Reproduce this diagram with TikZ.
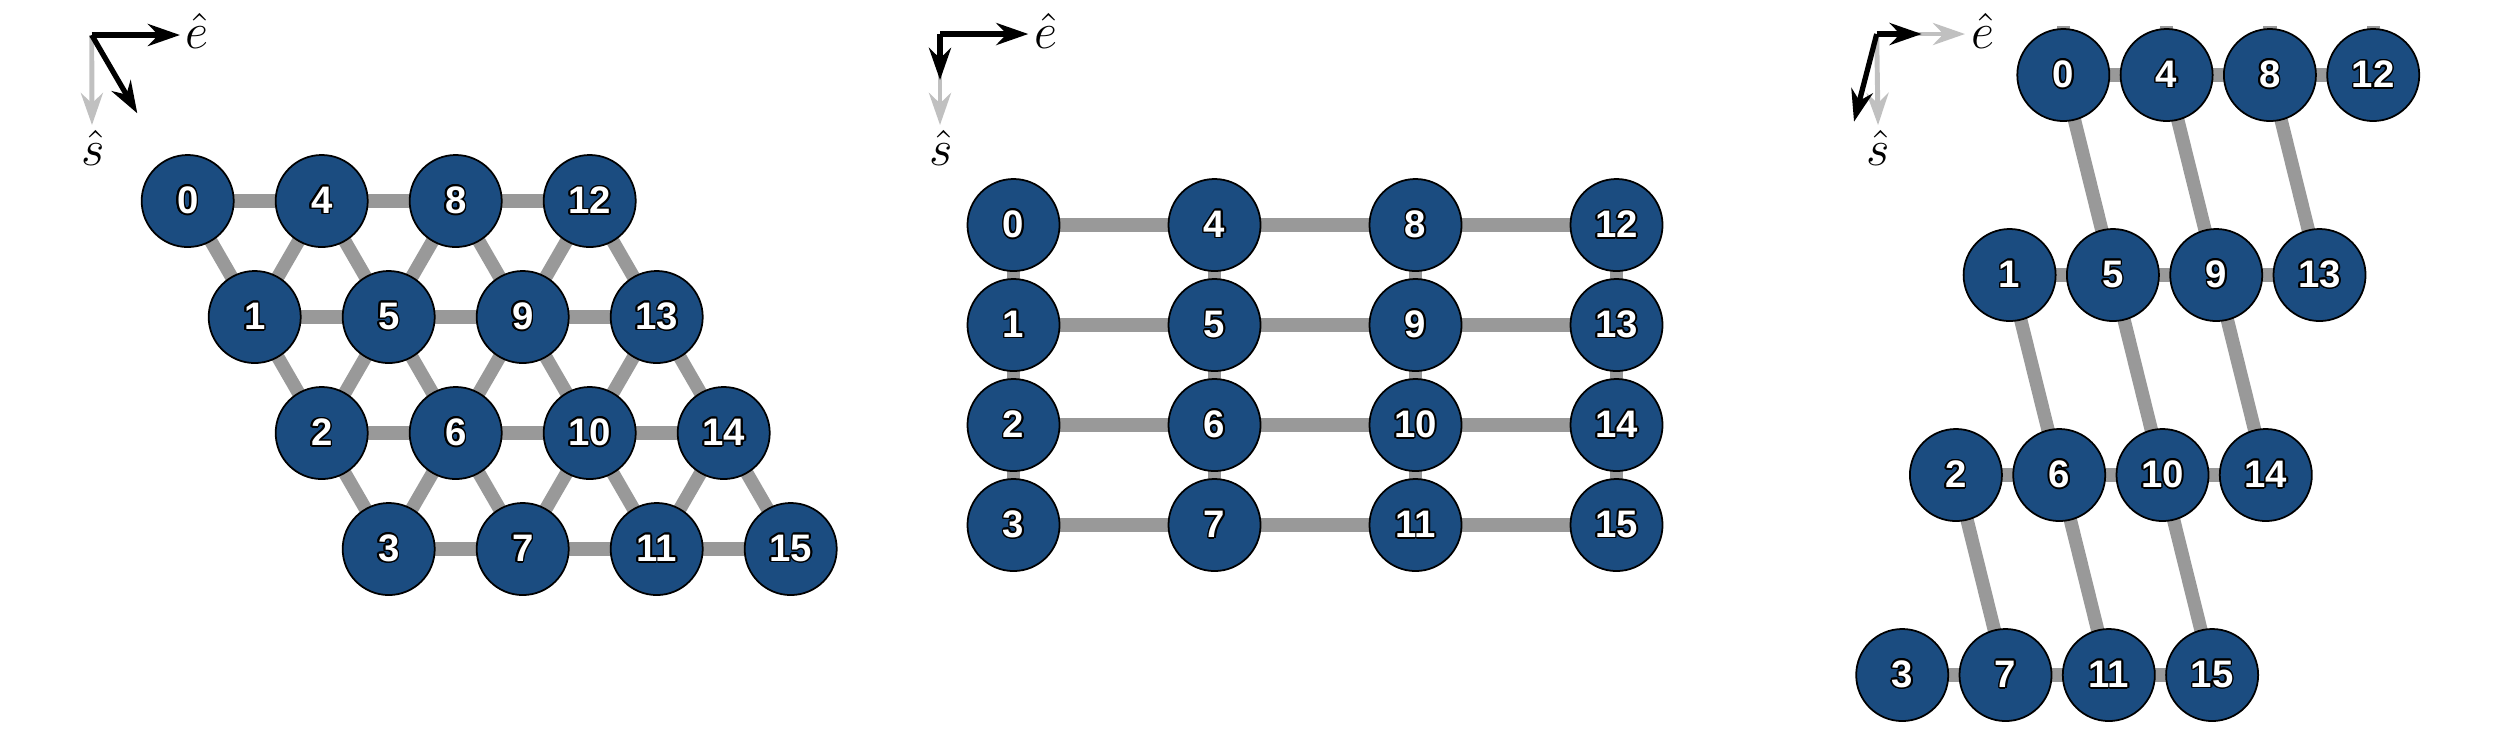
\documentclass[tikz,border=0pt]{standalone}
\usepackage{fontspec}
\setsansfont{Liberation Sans}
\usepackage{contour}
\contourlength{0.45pt}
\usetikzlibrary{
  arrows.meta,
  positioning,
  backgrounds
}
\definecolor{azulsitio}{RGB}{27,76,128}
\definecolor{cinzaligacao}{RGB}{153,153,153}
\definecolor{cinzaseta}{RGB}{192,192,192}

\begin{document}
\begin{tikzpicture}[
      x=0.01cm, y=-0.01cm,
      sitio/.style={circle, draw=black, line width=0.5pt, fill=azulsitio, minimum size=0.92cm, inner sep=0pt, text=white, font=\fontsize{10.9}{12}\selectfont\sffamily\bfseries},
      ligacao/.style={line width=3.8pt, cinzaligacao},
      seta/.style={-{Stealth[length=0.32cm, width=0.22cm]}, line width=1.5pt, black},
      setaref/.style={-{Stealth[length=0.32cm, width=0.22cm]}, line width=1.4pt, cinzaseta},
      rotulo/.style={inner sep=0pt, font=\Large}
  ]
      \useasboundingbox (0,0) rectangle (2513,750);

      % Rede triangular
      \foreach \c in {0,...,3}
        \foreach \r in {0,...,3} {
          \pgfmathtruncatemacro{\n}{4*\c+\r}
          \node[sitio] (t\n) at ({187.7+134*\c+67*\r}, {201+116*\r}) {\contour{black}{\n}};
        }

      % Rede quadrada
      \foreach \c in {0,...,3}
        \foreach \r in {0,...,3} {
          \pgfmathtruncatemacro{\n}{4*\c+\r}
          \node[sitio] (q\n) at ({1013.5+201*\c}, {225+100*\r}) {\contour{black}{\n}};
        }

      % Rede inclinada
      \foreach \c in {0,...,3}
        \foreach \r in {0,...,3} {
          \pgfmathtruncatemacro{\n}{4*\c+\r}
          \node[sitio] (c\n) at ({2063.3+103.3*\c-53.7*\r}, {75+200*\r}) {\contour{black}{\n}};
        }

      % Ligacoes (atras dos sitios)
      \begin{scope}[on background layer]
        \foreach \c in {0,...,3}
          \foreach \r in {0,...,3} {
            \pgfmathtruncatemacro{\n}{4*\c+\r}
            \pgfmathtruncatemacro{\direita}{\n+4}
            \pgfmathtruncatemacro{\baixo}{\n+1}
            \pgfmathtruncatemacro{\esq}{\n-3}
            \pgfmathtruncatemacro{\diag}{\n+5}
            \ifnum\c<3
              \draw[ligacao] (t\n.center) -- (t\direita.center);
              \draw[ligacao] (q\n.center) -- (q\direita.center);
              \draw[ligacao] (c\n.center) -- (c\direita.center);
            \fi
            \ifnum\r<3
              \draw[ligacao] (t\n.center) -- (t\baixo.center);
              \draw[ligacao] (q\n.center) -- (q\baixo.center);
              \ifnum\c>0
                \draw[ligacao] (t\n.center) -- (t\esq.center);
              \fi
              \ifnum\c<3
                \draw[ligacao] (c\n.center) -- (c\diag.center);
              \fi
            \fi
          }
        \foreach \n in {0,4,8,12}
          \draw[ligacao] (c\n.center) -- ([yshift=0.6pt]c\n.north);
      \end{scope}

      % Eixos
      \coordinate (o1) at (91.7,35);
      \coordinate (e1) at (180,35);
      \coordinate (s1) at (92,125);
      \coordinate (d1) at (137.3,113.3);
      \draw[setaref] (o1) -- (s1);
      \draw[seta] (o1) -- (e1);
      \draw[seta] (o1) -- (d1);
      \node[rotulo, anchor=base west] (le1) at (185,48) {$\hat{e}$};
      \node[rotulo, anchor=base] (ls1) at (93,165) {$\hat{s}$};

      \coordinate (o2) at (940,34);
      \coordinate (e2) at (1028.3,34);
      \coordinate (s2) at (940,125);
      \coordinate (d2) at (940,80);
      \draw[setaref] (o2) -- (s2);
      \draw[seta] (o2) -- (e2);
      \draw[seta] (o2) -- (d2);
      \node[rotulo, anchor=base west] (le2) at (1034,48) {$\hat{e}$};
      \node[rotulo, anchor=base] (ls2) at (941,165) {$\hat{s}$};

      \coordinate (o3) at (1876.7,34);
      \coordinate (e3) at (1965,34);
      \coordinate (s3) at (1878,125);
      \coordinate (f3) at (1921.7,34);
      \coordinate (d3) at (1854,121.7);
      \draw[setaref] (o3) -- (e3);
      \draw[setaref] (o3) -- (s3);
      \draw[seta] (o3) -- (f3);
      \draw[seta] (o3) -- (d3);
      \node[rotulo, anchor=base west] (le3) at (1971,48) {$\hat{e}$};
      \node[rotulo, anchor=base] (ls3) at (1878,165) {$\hat{s}$};
  \end{tikzpicture}
\end{document}
